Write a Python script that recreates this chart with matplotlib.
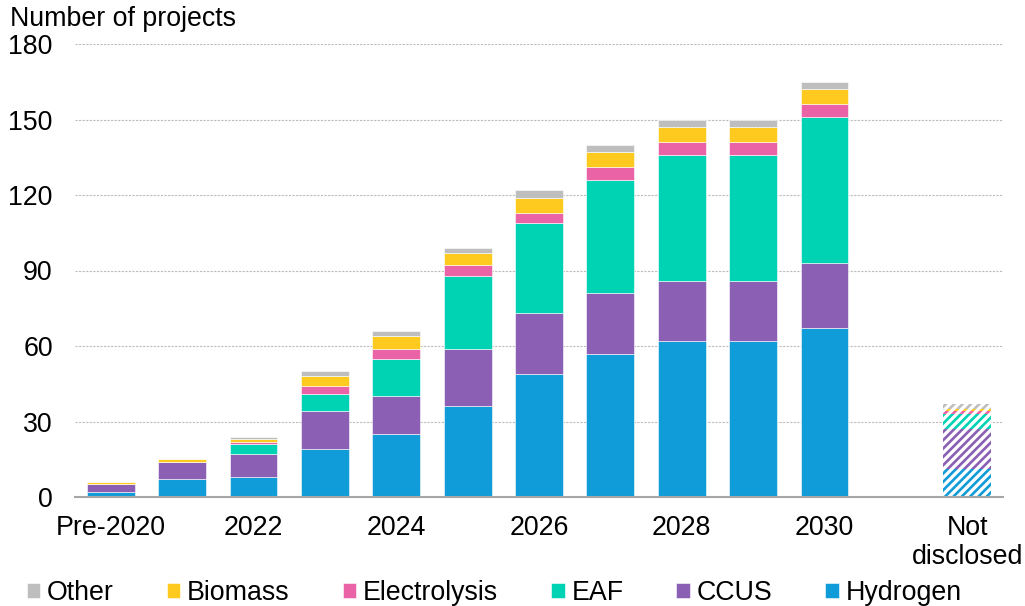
import numpy as np
import matplotlib
matplotlib.use("Agg")
import matplotlib.pyplot as plt

plt.rcParams['font.family'] = ['Liberation Sans', 'DejaVu Sans']
plt.rcParams['hatch.linewidth'] = 1.9

# Number of low-emission steel projects by start year and technology
categories = ['Pre-2020', '2021', '2022', '2023', '2024', '2025', '2026',
              '2027', '2028', '2029', '2030', 'Not\ndisclosed']
labelled = ['Pre-2020', '2022', '2024', '2026', '2028', '2030', 'Not\ndisclosed']

hydrogen     = [2, 7, 8, 19, 25, 36, 49, 57, 62, 62, 67, 11]
ccus         = [3, 7, 9, 15, 15, 23, 24, 24, 24, 24, 26, 16]
eaf          = [0, 0, 4, 7, 15, 29, 36, 45, 50, 50, 58, 6]
electrolysis = [0, 0, 1, 3, 4, 4, 4, 5, 5, 5, 5, 1]
biomass      = [1, 1, 1, 4, 5, 5, 6, 6, 6, 6, 6, 1]
other        = [0, 0, 1, 2, 2, 2, 3, 3, 3, 3, 3, 2]

series = [
    ('Hydrogen', hydrogen, '#109CD8'),
    ('CCUS', ccus, '#8A5FB4'),
    ('EAF', eaf, '#00D2B4'),
    ('Electrolysis', electrolysis, '#EA63A6'),
    ('Biomass', biomass, '#FFCA1F'),
    ('Other', other, '#BEBEBE'),
]

FS = 19.3

# one empty slot separates the dated projects from the undisclosed ones
x = np.array(list(range(len(categories) - 1)) + [len(categories)])
dated = x < len(categories) - 1

fig = plt.figure(figsize=(10.25, 6.06), dpi=100)
ax = fig.add_axes([75 / 1025, 1 - 497 / 606, 928 / 1025, 453 / 606])

width = 0.67
bottom = np.zeros(len(categories))
handles = []
for name, vals, color in series:
    vals = np.array(vals, dtype=float)
    h = ax.bar(x[dated], vals[dated], width, bottom=bottom[dated],
               color=color, edgecolor='white', linewidth=0.4, label=name,
               zorder=3)
    ax.bar(x[~dated], vals[~dated], width, bottom=bottom[~dated],
           facecolor='white', edgecolor=color, linewidth=0, hatch='////',
           zorder=3)
    bottom += vals
    handles.append(h)

ax.set_xlim(-0.5, len(categories) + 0.5)
ax.set_ylim(0, 180)
ax.set_yticks(np.arange(0, 181, 30))
ax.yaxis.grid(True, color='#BDBDBD', linestyle=(0, (2, 1.2)), linewidth=0.8,
              zorder=0)
ax.set_axisbelow(True)

tick_pos = [x[categories.index(c)] for c in labelled]
ax.set_xticks(tick_pos)
ax.set_xticklabels(labelled, linespacing=1.15)

ax.tick_params(axis='y', length=0, pad=16, labelsize=FS)
ax.tick_params(axis='x', length=0, pad=13, labelsize=FS)
for side in ('top', 'right', 'left'):
    ax.spines[side].set_visible(False)
ax.spines['bottom'].set_color('#A6A6A6')
ax.spines['bottom'].set_linewidth(1.5)
ax.spines['bottom'].set_zorder(4)

fig.text(10 / 1025, 1 - 19 / 606, 'Number of projects', fontsize=FS,
         va='center', ha='left')

leg = fig.legend(handles[::-1], [s[0] for s in series][::-1],
                 loc='center left', bbox_to_anchor=(27 / 1025, 1 - 593 / 606),
                 ncol=6, frameon=False, fontsize=FS,
                 handlelength=0.5, handleheight=0.5, handletextpad=0.25,
                 columnspacing=1.98, borderpad=0, borderaxespad=0)

fig.savefig('out.png', dpi=100)
